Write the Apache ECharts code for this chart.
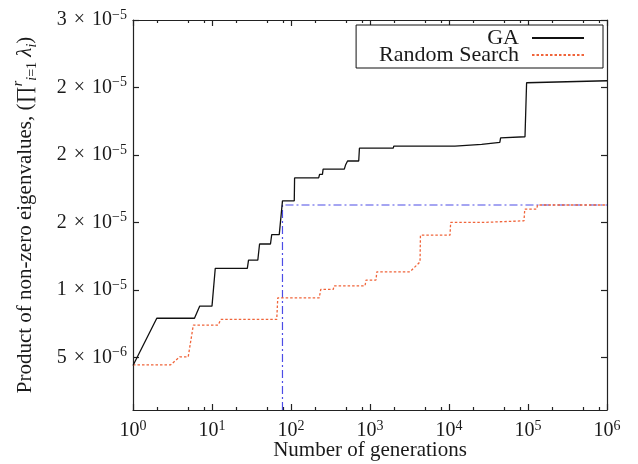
<!DOCTYPE html>
<html><head><meta charset="utf-8">
<script src="https://cdn.jsdelivr.net/npm/echarts@6/dist/echarts.min.js"></script>
<style>html,body{margin:0;padding:0;background:#fff}#c{width:638px;height:464px}</style>
</head><body><div id="c"></div>
<script>
// ---- data ----
const gaGenerations = [1,2,6,7,10,11,28,29,38,40,55,57,71,78,110,111,224,230,250,255,473,490,510,520,720,735,1970,2000,11900,12100,25900,26500,44000,45000,91600,96000,1000000];
const gaValues = [4.4e-6,7.9e-6,7.9e-6,8.8e-6,8.8e-6,11.6e-6,11.6e-6,12.2e-6,12.2e-6,13.4e-6,13.4e-6,14.1e-6,14.1e-6,16.6e-6,16.6e-6,18.3e-6,18.3e-6,18.56e-6,18.56e-6,18.95e-6,18.95e-6,19.25e-6,19.25e-6,19.55e-6,19.55e-6,20.5e-6,20.5e-6,20.66e-6,20.66e-6,20.79e-6,20.79e-6,20.93e-6,20.93e-6,21.27e-6,21.35e-6,25.35e-6,25.5e-6];
const rsGenerations = [1,3,3.9,5,5.8,12,12.9,66,68,228,238,343,350,865,890,1190,1220,3210,4300,4350,10300,10500,27200,28000,89000,91000,129000,132000,1000000];
const rsValues = [4.45e-6,4.45e-6,5.04e-6,5.04e-6,7.39e-6,7.39e-6,7.81e-6,7.81e-6,9.41e-6,9.41e-6,10.04e-6,10.04e-6,10.3e-6,10.3e-6,10.73e-6,10.73e-6,11.34e-6,11.34e-6,12.08e-6,14.06e-6,14.06e-6,15.0e-6,15.0e-6,15.12e-6,15.12e-6,15.99e-6,15.99e-6,16.29e-6,16.29e-6];
const thresholdGenerations = [78,78,1000000];
const thresholdValues = [1.1e-6,16.29e-6,16.29e-6];
const seriesNames = ['GA','Random Search'];
const xTickValues = [1,10,100,1000,10000,100000,1000000];
const xTickExponents = ['0','1','2','3','4','5','6'];
const yTickValues = [5e-6,1e-5,1.5e-5,2e-5,2.5e-5,3e-5];
const yTickMantissas = ['5','1','2','2','2','3'];
const yTickExponents = ['−6','−5','−5','−5','−5','−5'];
const xTitle = 'Number of generations';
const yTitle = 'Product of non-zero eigenvalues, ({p|∏}{supi|r}{subi|i}{sub|=1} {it|λ}{subi|i})';

// ---- chart ----
const FONT = 'Liberation Serif';
const TXT = '#1a1a1a';
const minorX = [];
for (let d = 1; d < 1e6; d *= 10) for (const m of [2,5,8]) minorX.push(m * d);
const yMin = 1.1e-6, yMax = 3e-5;
const lineSt = {color:'#222', width:1.2};
const tickRich = {
  b:{fontFamily:FONT,fontSize:20,lineHeight:24,color:TXT},
  x:{fontFamily:FONT,fontSize:20,lineHeight:24,color:TXT,padding:[0,2,0,2]},
  s:{fontFamily:FONT,fontSize:14,lineHeight:14,verticalAlign:'top',color:TXT}
};
const xBase = {type:'log', logBase:10, min:1, max:1e6, splitLine:{show:false}};
const yBase = {type:'value', min:yMin, max:yMax, splitLine:{show:false}};

const option = {
  animation:false,
  backgroundColor:'#fff',
  grid:{left:133,right:31,top:20,bottom:54,outerBoundsMode:'none',containLabel:false},
  legend:{
    data:seriesNames, orient:'vertical', align:'right', right:35, top:25,
    padding:[2,18,2,23], itemWidth:52, itemHeight:14, itemGap:-5,
    backgroundColor:'#fff', borderColor:'#111', borderWidth:1, borderRadius:0,
    selectedMode:false,
    itemStyle:{opacity:0},
    textStyle:{fontFamily:FONT,fontSize:22,lineHeight:16,color:TXT,padding:[0,8,0,0]}
  },
  xAxis:[
    Object.assign({}, xBase, {
      position:'bottom',
      axisLine:{show:true,lineStyle:lineSt},
      axisTick:{show:true,inside:true,length:6,customValues:xTickValues,lineStyle:lineSt},
      axisLabel:{show:true,customValues:xTickValues,margin:9,
        formatter:(v)=>{const i=xTickValues.findIndex(t=>Math.abs(t-v)/t<1e-6);return '{b|10}{s|'+xTickExponents[i]+'}';},
        rich:tickRich},
      name:xTitle, nameLocation:'middle', nameGap:30, nameMoveOverlap:false,
      nameTextStyle:{fontFamily:FONT,fontSize:21,color:TXT}
    }),
    Object.assign({}, xBase, {
      position:'bottom', axisLine:{show:false},
      axisTick:{show:true,inside:true,length:3,customValues:minorX,lineStyle:lineSt},
      axisLabel:{show:false}
    }),
    Object.assign({}, xBase, {
      position:'top', axisLine:{show:true,lineStyle:lineSt},
      axisTick:{show:true,inside:true,length:6,customValues:xTickValues,lineStyle:lineSt},
      axisLabel:{show:false}
    }),
    Object.assign({}, xBase, {
      position:'top', axisLine:{show:false},
      axisTick:{show:true,inside:true,length:3,customValues:minorX,lineStyle:lineSt},
      axisLabel:{show:false}
    })
  ],
  yAxis:[
    Object.assign({}, yBase, {
      position:'left',
      axisLine:{show:true,lineStyle:lineSt},
      axisTick:{show:true,inside:true,length:6,customValues:yTickValues,lineStyle:lineSt},
      axisLabel:{show:true,customValues:yTickValues,margin:6,
        formatter:(v)=>{const i=yTickValues.findIndex(t=>Math.abs(t-v)/t<1e-6);return '{b|'+yTickMantissas[i]+' }{x|×}{b| 10}{s|'+yTickExponents[i]+'}';},
        rich:tickRich},
      name:yTitle, nameLocation:'middle', nameGap:94, nameRotate:90, nameMoveOverlap:false,
      nameTextStyle:{fontFamily:FONT,fontSize:21,lineHeight:28,color:TXT,
        rich:{
          p:{fontFamily:FONT,fontSize:21,lineHeight:28,color:TXT},
          it:{fontFamily:FONT,fontSize:21,lineHeight:28,fontStyle:'italic',color:TXT},
          supi:{fontFamily:FONT,fontSize:14,lineHeight:14,fontStyle:'italic',verticalAlign:'top',color:TXT},
          subi:{fontFamily:FONT,fontSize:14,lineHeight:14,fontStyle:'italic',verticalAlign:'bottom',color:TXT},
          sub:{fontFamily:FONT,fontSize:14,lineHeight:14,verticalAlign:'bottom',color:TXT}
        }}
    }),
    Object.assign({}, yBase, {
      position:'right',
      axisLine:{show:true,lineStyle:lineSt},
      axisTick:{show:true,inside:true,length:6,customValues:yTickValues,lineStyle:lineSt},
      axisLabel:{show:false}
    })
  ],
  series:[
    {name:'threshold', type:'line', xAxisIndex:0, yAxisIndex:0, symbol:'none', z:2,
     data:thresholdGenerations.map((g,i)=>[g,thresholdValues[i]]),
     lineStyle:{color:'#4d4de6',width:1.2,type:[8,3,2,3]}, itemStyle:{color:'#4d4de6'}},
    {name:seriesNames[1], type:'line', xAxisIndex:0, yAxisIndex:0, symbol:'none', z:3,
     data:rsGenerations.map((g,i)=>[g,rsValues[i]]),
     lineStyle:{color:'#f0643a',width:1.3,type:[2.5,2]}, itemStyle:{color:'#f0643a'}},
    {name:seriesNames[0], type:'line', xAxisIndex:0, yAxisIndex:0, symbol:'none', z:4,
     data:gaGenerations.map((g,i)=>[g,gaValues[i]]),
     lineStyle:{color:'#111',width:1.3}, itemStyle:{color:'#111'}}
  ]
};
const chart = echarts.init(document.getElementById('c'), null, {renderer:'canvas'});
chart.setOption(option);
</script>
</body></html>
